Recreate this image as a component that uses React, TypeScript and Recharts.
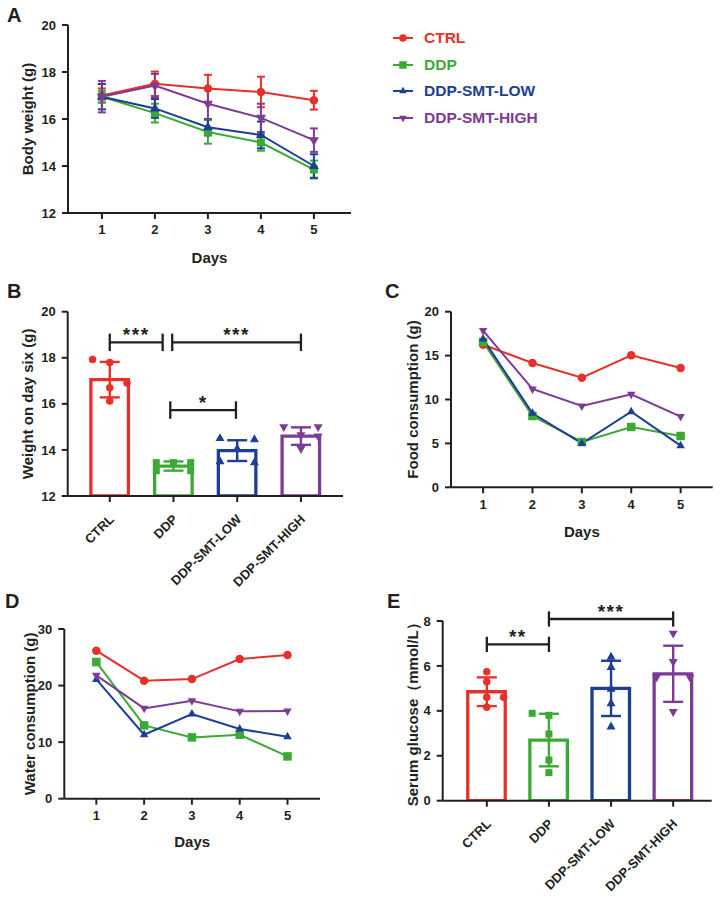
import React from 'react';
import {
  LineChart,
  Line,
  ComposedChart,
  Bar,
  Cell,
  Scatter,
  XAxis,
  YAxis,
  ErrorBar,
  ReferenceLine,
  Legend
} from 'recharts';

const INK = '#231f20';
const FONT = "'Liberation Sans', Arial, Helvetica, sans-serif";

const GROUPS = ['CTRL', 'DDP', 'DDP-SMT-LOW', 'DDP-SMT-HIGH'];
const KEYS = ['ctrl', 'ddp', 'low', 'high'];
const COLORS = ['#e8302a', '#3aaa35', '#1d3e96', '#7c3b95'];
const MARKS = ['circle', 'square', 'up', 'down'];

const DAYS = [1, 2, 3, 4, 5];

// A - body weight (mean, sd)
const BW_CTRL = [17.0, 17.5, 17.3, 17.15, 16.8];
const BW_CTRL_SD = [0.3, 0.52, 0.58, 0.65, 0.4];
const BW_DDP = [16.95, 16.25, 15.45, 15.0, 13.85];
const BW_DDP_SD = [0.25, 0.4, 0.5, 0.35, 0.38];
const BW_LOW = [16.95, 16.45, 15.65, 15.32, 14.0];
const BW_LOW_SD = [0.54, 0.4, 0.35, 0.57, 0.5];
const BW_HIGH = [16.95, 17.42, 16.65, 16.05, 15.1];
const BW_HIGH_SD = [0.67, 0.5, 0.65, 0.6, 0.5];

// B - weight on day six
const B_MEAN = [17.05, 13.3, 13.97, 14.6];
const B_SD = [0.77, 0.2, 0.45, 0.38];
const B_POINTS = [
  [17.93, 17.8, 16.91, 16.7, 16.12],
  [13.45, 13.1, 13.45, 13.45, 13.1],
  [14.5, 14.45, 14.05, 13.5, 13.45],
  [15.0, 15.0, 14.65, 14.6, 14.05]
];

// C - food consumption
const FOOD_CTRL = [16.24, 14.16, 12.49, 15.03, 13.59];
const FOOD_DDP = [16.55, 8.12, 5.16, 6.87, 5.84];
const FOOD_LOW = [16.9, 8.43, 5.0, 8.61, 4.74];
const FOOD_HIGH = [17.84, 11.2, 9.26, 10.59, 8.05];

// D - water consumption
const WATER_CTRL = [26.16, 20.86, 21.15, 24.69, 25.4];
const WATER_DDP = [24.16, 12.96, 10.84, 11.31, 7.48];
const WATER_LOW = [21.1, 11.31, 14.97, 12.32, 10.96];
const WATER_HIGH = [21.8, 15.97, 17.32, 15.44, 15.5];

// E - serum glucose
const E_MEAN = [4.85, 2.7, 5.0, 5.65];
const E_SD = [0.64, 1.17, 1.23, 1.25];
const E_POINTS = [
  [5.74, 5.3, 4.6, 4.6, 4.16],
  [3.89, 3.8, 2.97, 1.81, 1.25],
  [6.4, 5.94, 4.97, 4.33, 3.29],
  [7.45, 6.19, 5.49, 5.49, 3.96]
];

// significance brackets
const B_BRACKETS = [
  { from: 0, to: 0.83, y: 18.67, label: '***' },
  { from: 0.98, to: 3, y: 18.67, label: '***' },
  { from: 0.95, to: 1.98, y: 15.73, label: '*' }
];
const E_BRACKETS = [
  { from: 0, to: 1, y: 6.96, label: '**' },
  { from: 1, to: 3, y: 8.09, label: '***' }
];

// horizontal spread of the dots inside each bar (-1 left, 0 centre, 1 right)
const SPREAD = 0.27;
const B_JITTER = [
  [-1, 0, 1, 0, 0],
  [-1, -1, 0, 1, 1],
  [-1, 1, 0, -1, 1],
  [-1, 1, 0, 1, 0]
];
const E_JITTER = [
  [0, 0, 0, 1, 0],
  [-1, 0, 0, 0, 0],
  [0, 0, 0, 0, 0],
  [0, 0, -1, 1, 0]
];

const bwRows = DAYS.map((d, i) => ({
  day: d,
  ctrl: BW_CTRL[i], ctrlSd: BW_CTRL_SD[i],
  ddp: BW_DDP[i], ddpSd: BW_DDP_SD[i],
  low: BW_LOW[i], lowSd: BW_LOW_SD[i],
  high: BW_HIGH[i], highSd: BW_HIGH_SD[i]
}));
const foodRows = DAYS.map((d, i) => ({ day: d, ctrl: FOOD_CTRL[i], ddp: FOOD_DDP[i], low: FOOD_LOW[i], high: FOOD_HIGH[i] }));
const waterRows = DAYS.map((d, i) => ({ day: d, ctrl: WATER_CTRL[i], ddp: WATER_DDP[i], low: WATER_LOW[i], high: WATER_HIGH[i] }));

const barRows = (mean: number[], sd: number[]) => mean.map((m, i) => ({ x: i, mean: m, y: m, sd: sd[i] }));
const pointRows = (pts: number[][], jit: number[][], g: number) =>
  pts[g].map((v, j) => ({ x: g + jit[g][j] * SPREAD, y: v }));

function Marker({ cx, cy, kind, color, size }: any) {
  if (cx == null || cy == null) return null;
  const s = size;
  if (kind === 'circle') return <circle cx={cx} cy={cy} r={s / 2} fill={color} />;
  if (kind === 'square') return <rect x={cx - s / 2} y={cy - s / 2} width={s} height={s} fill={color} />;
  if (kind === 'up')
    return <polygon points={`${cx},${cy - s * 0.58} ${cx + s / 2},${cy + s * 0.3} ${cx - s / 2},${cy + s * 0.3}`} fill={color} />;
  return <polygon points={`${cx},${cy + s * 0.58} ${cx + s / 2},${cy - s * 0.3} ${cx - s / 2},${cy - s * 0.3}`} fill={color} />;
}

const axisLine = { stroke: INK, strokeWidth: 2 };
const tickStyle = { fill: INK, fontSize: 13, fontWeight: 700, fontFamily: FONT };
const titleStyle = { fontSize: 15, fontWeight: 700, fill: INK, fontFamily: FONT, textAnchor: 'middle' as const };

const yLabel = (value: string, offset: number) => ({ value, angle: -90, position: 'insideLeft' as const, offset, style: titleStyle });
const daysLabel = { value: 'Days', position: 'insideBottom' as const, offset: 0, style: titleStyle };

function GroupTick({ x, y, payload }: any) {
  const tx = x + 5;
  const ty = y + 16;
  return (
    <text x={tx} y={ty} transform={`rotate(-45 ${tx} ${ty})`} textAnchor="end" fill={INK} fontSize={13} fontWeight={700} fontFamily={FONT}>
      {GROUPS[payload.value]}
    </text>
  );
}

function LegendBox() {
  return (
    <div>
      {GROUPS.map((g, i) => (
        <div key={g} style={{ display: 'flex', alignItems: 'center', height: 26.7 }}>
          <svg width={24} height={12}>
            <line x1={2} y1={6} x2={22} y2={6} stroke={COLORS[i]} strokeWidth={2} />
            <Marker cx={12} cy={6} kind={MARKS[i]} color={COLORS[i]} size={7.5} />
          </svg>
          <span style={{ marginLeft: 9, color: COLORS[i], fontSize: 15.5, fontWeight: 700, fontFamily: FONT }}>{g}</span>
        </div>
      ))}
    </div>
  );
}

const dotFor = (kind: string, color: string, size: number) => (p: any) => (
  <Marker key={`${kind}-${p.index}`} cx={p.cx} cy={p.cy} kind={kind} color={color} size={size} />
);

function brackets(list: { from: number; to: number; y: number; label: string }[], cap: number, prefix: string) {
  const out: any[] = [];
  list.forEach((b, i) => {
    out.push(
      <ReferenceLine
        key={`${prefix}h${i}`}
        segment={[{ x: b.from, y: b.y }, { x: b.to, y: b.y }]}
        stroke={INK}
        strokeWidth={2.3}
        ifOverflow="visible"
        label={{ value: b.label, position: 'top', offset: 1, fill: INK, fontSize: 19, fontWeight: 700, fontFamily: FONT, letterSpacing: 1.5 }}
      />
    );
    [b.from, b.to].forEach((x, k) =>
      out.push(
        <ReferenceLine
          key={`${prefix}c${i}-${k}`}
          segment={[{ x, y: b.y - cap }, { x, y: b.y + cap }]}
          stroke={INK}
          strokeWidth={2.3}
          ifOverflow="visible"
        />
      )
    );
  });
  return out;
}

function dailyLines(size: number) {
  return KEYS.map((k, i) => (
    <Line
      key={k}
      dataKey={k}
      name={GROUPS[i]}
      stroke={COLORS[i]}
      strokeWidth={2}
      dot={dotFor(MARKS[i], COLORS[i], size)}
      activeDot={false}
      isAnimationActive={false}
    />
  ));
}

function BarPanel({ mean, sd, points, jitter, ticks, domain, xDomain, label, labelOffset, list, cap, prefix, ...layout }: any) {
  const rows = barRows(mean, sd);
  return (
    <ComposedChart width={layout.width} height={layout.height} data={rows} margin={layout.margin}>
      <XAxis
        dataKey="x"
        type="number"
        domain={xDomain}
        ticks={[0, 1, 2, 3]}
        allowDataOverflow
        height={layout.xHeight}
        tick={<GroupTick />}
        tickSize={6}
        axisLine={axisLine}
        tickLine={axisLine}
        interval={0}
      />
      {/* separate hidden axis for the dots, so their spread does not shrink the bars */}
      <XAxis xAxisId="pts" dataKey="x" type="number" domain={xDomain} allowDataOverflow hide />
      <YAxis
        dataKey="y"
        type="number"
        domain={domain}
        ticks={ticks}
        allowDataOverflow
        width={layout.yWidth}
        tick={tickStyle}
        tickSize={6}
        tickMargin={6}
        axisLine={axisLine}
        tickLine={axisLine}
        label={yLabel(label, labelOffset)}
      />
      <Bar dataKey="mean" barSize={37.5} fill="#fff" strokeWidth={3.3} isAnimationActive={false}>
        {rows.map((r, i) => (
          <Cell key={i} stroke={COLORS[i]} fill="#fff" />
        ))}
      </Bar>
      {GROUPS.map((g, i) => (
        <Scatter
          key={`pt${g}`}
          xAxisId="pts"
          data={pointRows(points, jitter, i)}
          shape={dotFor(MARKS[i], COLORS[i], i === 0 ? 7.5 : i === 1 ? 7 : 9)}
          isAnimationActive={false}
        />
      ))}
      {GROUPS.map((g, i) => (
        <Scatter key={`err${g}`} data={[rows[i]]} shape={() => <g />} isAnimationActive={false}>
          <ErrorBar dataKey="sd" direction="y" width={10} stroke={COLORS[i]} strokeWidth={2.4} />
        </Scatter>
      ))}
      {brackets(list, cap, prefix)}
    </ComposedChart>
  );
}

export default function App() {
  return (
    <div style={{ position: 'absolute', left: 0, top: 0, width: 722, height: 897, background: '#fff', fontFamily: FONT }}>
      {/* A */}
      <div style={{ position: 'absolute', left: 0, top: 0 }}>
        <LineChart width={722} height={270} data={bwRows} margin={{ top: 25, right: 371, left: 0, bottom: 7 }}>
          <XAxis dataKey="day" type="number" domain={[0.36, 5.7]} ticks={DAYS} allowDataOverflow height={50} tick={tickStyle} tickSize={6} tickMargin={6} axisLine={axisLine} tickLine={axisLine} label={daysLabel} />
          <YAxis type="number" domain={[12, 20]} ticks={[12, 14, 16, 18, 20]} allowDataOverflow width={68} tick={tickStyle} tickSize={6} tickMargin={6} axisLine={axisLine} tickLine={axisLine} label={yLabel('Body weight (g)', 28)} />
          {KEYS.map((k, i) => (
            <Line key={k} dataKey={k} name={GROUPS[i]} stroke={COLORS[i]} strokeWidth={2} dot={dotFor(MARKS[i], COLORS[i], i === 0 ? 8.5 : i === 1 ? 8 : 10)} activeDot={false} isAnimationActive={false}>
              <ErrorBar dataKey={`${k}Sd`} direction="y" width={4} stroke={COLORS[i]} strokeWidth={2} />
            </Line>
          ))}
          <Legend layout="vertical" align="center" verticalAlign="middle" content={<LegendBox />} wrapperStyle={{ left: 391, top: 24.7, width: 200 }} />
        </LineChart>
      </div>

      {/* B */}
      <div style={{ position: 'absolute', left: 0, top: 290 }}>
        <BarPanel
          width={360} height={320} margin={{ top: 21.7, right: 17, left: 0, bottom: 14 }} xHeight={100} yWidth={67.7}
          mean={B_MEAN} sd={B_SD} points={B_POINTS} jitter={B_JITTER}
          domain={[12, 20]} ticks={[12, 14, 16, 18, 20]} xDomain={[-0.66, 3.66]}
          label="Weight on day six (g)" labelOffset={28} list={B_BRACKETS} cap={0.38} prefix="b"
        />
      </div>

      {/* C */}
      <div style={{ position: 'absolute', left: 360, top: 290 }}>
        <LineChart width={362} height={270} data={foodRows} margin={{ top: 21.7, right: 9.3, left: 0, bottom: 22.7 }}>
          <XAxis dataKey="day" type="number" domain={[0.35, 5.65]} ticks={DAYS} allowDataOverflow height={50} tick={tickStyle} tickSize={6} tickMargin={6} axisLine={axisLine} tickLine={axisLine} label={daysLabel} />
          <YAxis type="number" domain={[0, 20]} ticks={[0, 5, 10, 15, 20]} allowDataOverflow width={91} tick={tickStyle} tickSize={6} tickMargin={6} axisLine={axisLine} tickLine={axisLine} label={yLabel('Food consumption (g)', 53)} />
          {dailyLines(8.5)}
        </LineChart>
      </div>

      {/* D */}
      <div style={{ position: 'absolute', left: 0, top: 600 }}>
        <LineChart width={360} height={270} data={waterRows} margin={{ top: 29, right: 40, left: 0, bottom: 23.3 }}>
          <XAxis dataKey="day" type="number" domain={[0.33, 5.68]} ticks={DAYS} allowDataOverflow height={48} tick={tickStyle} tickSize={6} tickMargin={6} axisLine={axisLine} tickLine={axisLine} label={daysLabel} />
          <YAxis type="number" domain={[0, 30]} ticks={[0, 10, 20, 30]} allowDataOverflow width={64.3} tick={tickStyle} tickSize={6} tickMargin={6} axisLine={axisLine} tickLine={axisLine} label={yLabel('Water consumption (g)', 30)} />
          {dailyLines(8.5)}
        </LineChart>
      </div>

      {/* E */}
      <div style={{ position: 'absolute', left: 360, top: 590 }}>
        <BarPanel
          width={362} height={307} margin={{ top: 31, right: 10.3, left: 0, bottom: 0 }} xHeight={96.3} yWidth={82.7}
          mean={E_MEAN} sd={E_SD} points={E_POINTS} jitter={E_JITTER}
          domain={[0, 8]} ticks={[0, 2, 4, 6, 8]} xDomain={[-0.71, 3.62]}
          label="Serum glucose（mmol/L）" labelOffset={53} list={E_BRACKETS} cap={0.34} prefix="e"
        />
      </div>

      {/* panel letters */}
      <svg width={722} height={897} style={{ position: 'absolute', left: 0, top: 0, pointerEvents: 'none' }}>
        {[
          ['A', 7, 22],
          ['B', 7, 298],
          ['C', 385, 298],
          ['D', 5, 608],
          ['E', 387, 608]
        ].map(([t, x, y]) => (
          <text key={t as string} x={x as number} y={y as number} fontSize={20} fontWeight={700} fill={INK} fontFamily={FONT}>
            {t}
          </text>
        ))}
      </svg>
    </div>
  );
}
